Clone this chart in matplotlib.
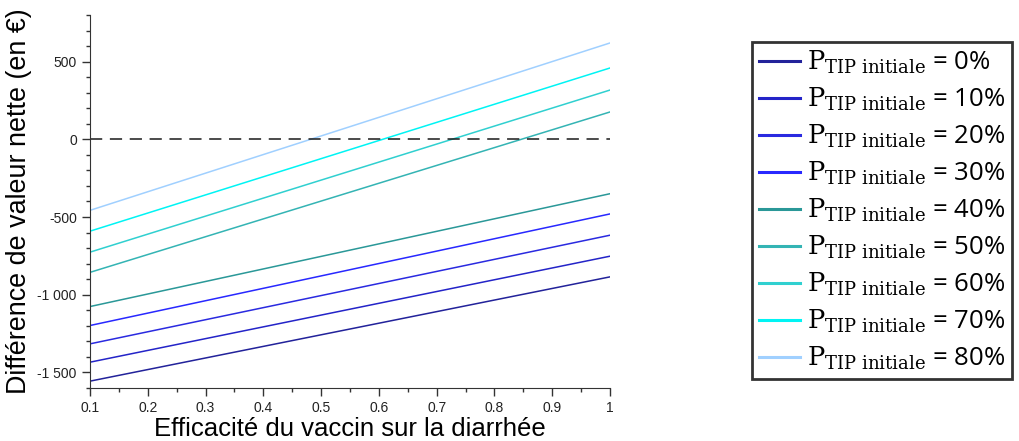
import numpy as np
import matplotlib
matplotlib.use("Agg")
import matplotlib.pyplot as plt
from matplotlib.ticker import MultipleLocator, FuncFormatter

plt.rcParams['font.family'] = ['Liberation Sans', 'DejaVu Sans']
plt.rcParams['mathtext.fontset'] = 'dejavuserif'

# efficacy range (x) and net value difference at both ends, one line per initial TIP share
efficacite = [0.1, 1.0]
p_tip = ["0%", "10%", "20%", "30%", "40%", "50%", "60%", "70%", "80%"]
diff_debut = [-1556, -1434, -1316, -1198, -1076, -856, -726, -591, -457]
diff_fin = [-885, -752, -617, -480, -350, 176, 317, 459, 620]
couleurs = ["#22229a", "#2424c8", "#2a2ae0", "#2828ff", "#2a9898",
            "#34b4b4", "#30d0d0", "#00f4f4", "#a0d0ff"]

fig = plt.figure(figsize=(10.19, 4.41), dpi=100)
ax = fig.add_axes([0.0883, 0.1202, 0.5103, 0.8458])

for p, d0, d1, c in zip(p_tip, diff_debut, diff_fin, couleurs):
    ax.plot(efficacite, [d0, d1], color=c, lw=1.1,
            label=r'$\mathrm{P}_{\mathrm{TIP\ initiale}}$' + ' = ' + p)

ax.axhline(0, color='#1a1a1a', lw=1.1, dashes=(8, 5))

ax.set_xlim(0.1, 1.0)
ax.set_ylim(-1600, 800)
ax.xaxis.set_major_locator(MultipleLocator(0.1))
ax.xaxis.set_minor_locator(MultipleLocator(0.05))
ax.yaxis.set_major_locator(MultipleLocator(500))
ax.yaxis.set_minor_locator(MultipleLocator(100))

def fmt_x(v, pos):
    return "1" if abs(v - 1) < 1e-9 else f"{v:.1f}"

def fmt_y(v, pos):
    s = f"{abs(int(round(v))):,}".replace(",", " ")
    return ("-" if v < 0 else "") + s

ax.xaxis.set_major_formatter(FuncFormatter(fmt_x))
ax.yaxis.set_major_formatter(FuncFormatter(fmt_y))

for s in ['top', 'right']:
    ax.spines[s].set_visible(False)
for s in ['left', 'bottom']:
    ax.spines[s].set_color('#333333')
ax.tick_params(which='major', length=6, width=1, color='#333333',
               labelsize=10, labelcolor='#222222')
ax.tick_params(which='minor', length=3, width=1, color='#333333')

ax.set_xlabel("Efficacité du vaccin sur la diarrhée", fontsize=18.5, labelpad=1)
ax.set_ylabel("Différence de valeur nette (en €)", fontsize=19.4, labelpad=4)

leg = fig.legend(loc='upper left', bbox_to_anchor=(752 / 1019, 1 - 42 / 441),
                 prop={'family': ['Open Sans', 'DejaVu Sans'], 'size': 18.5},
                 frameon=True, fancybox=False, edgecolor='black',
                 handlelength=1.6, handletextpad=0.25, labelspacing=0.38,
                 borderpad=0.28, borderaxespad=0)
leg.get_frame().set_linewidth(2)
for h in leg.get_lines():
    h.set_linewidth(2.2)

fig.savefig("out.png", dpi=100)
